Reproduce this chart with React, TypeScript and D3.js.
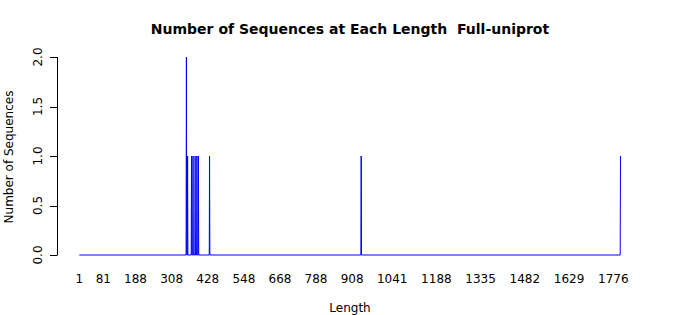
import React from "react";
import * as d3 from "d3";

const seqLengths = [357, 361, 374, 379, 386, 392, 397, 434, 938, 1800];
const seqCounts = [2, 1, 1, 1, 1, 1, 1, 1, 1, 1];
const minLength = 1;
const xTickLabels = [1, 81, 188, 308, 428, 548, 668, 788, 908, 1041, 1188, 1335, 1482, 1629, 1776];
const yTicks = [0, 0.5, 1, 1.5, 2];
const title = "Number of Sequences at Each Length  Full-uniprot";
const xTitle = "Length";
const yTitle = "Number of Sequences";

export default function App() {
  const W = 700, H = 315;
  const maxLength = seqLengths[seqLengths.length - 1];
  const x = d3.scaleLinear().domain([minLength, maxLength]).range([79.3, 620.5]);
  const y = d3.scaleLinear().domain([0, 2]).range([255, 57]);

  const pts: [number, number][] = [[minLength, 0]];
  seqLengths.forEach((L, i) => {
    pts.push([L - 1, 0]);
    pts.push([L, seqCounts[i]]);
    if (i < seqLengths.length - 1) pts.push([L + 1, 0]);
  });
  const line = d3.line<[number, number]>().x(d => x(d[0])).y(d => y(d[1]));

  const font = "DejaVu Sans, sans-serif";
  return (
    <svg width={W} height={H} style={{ position: "absolute", left: 0, top: 0, background: "#fff" }} fontFamily={font}>
      <rect width={W} height={H} fill="#fff" />
      <text x={350} y={34} textAnchor="middle" fontWeight="bold" fontSize={14} style={{ whiteSpace: "pre" }}>{title}</text>
      <path d={line(pts) || ""} fill="none" stroke="blue" strokeWidth={1} />
      <line x1={57.5} x2={57.5} y1={y(2)} y2={y(0)} stroke="#000" />
      {yTicks.map(t => (
        <g key={t}>
          <line x1={50} x2={57.5} y1={Math.round(y(t)) + 0.5} y2={Math.round(y(t)) + 0.5} stroke="#000" />
          <text transform={`translate(42,${y(t)}) rotate(-90)`} textAnchor="middle" fontSize={12}>{t.toFixed(1)}</text>
        </g>
      ))}
      {xTickLabels.map(t => (
        <text key={t} x={x(t)} y={283} textAnchor="middle" fontSize={12}>{t}</text>
      ))}
      <text x={350} y={312} textAnchor="middle" fontSize={12}>{xTitle}</text>
      <text transform={`translate(12.5,157) rotate(-90)`} textAnchor="middle" fontSize={12}>{yTitle}</text>
    </svg>
  );
}
